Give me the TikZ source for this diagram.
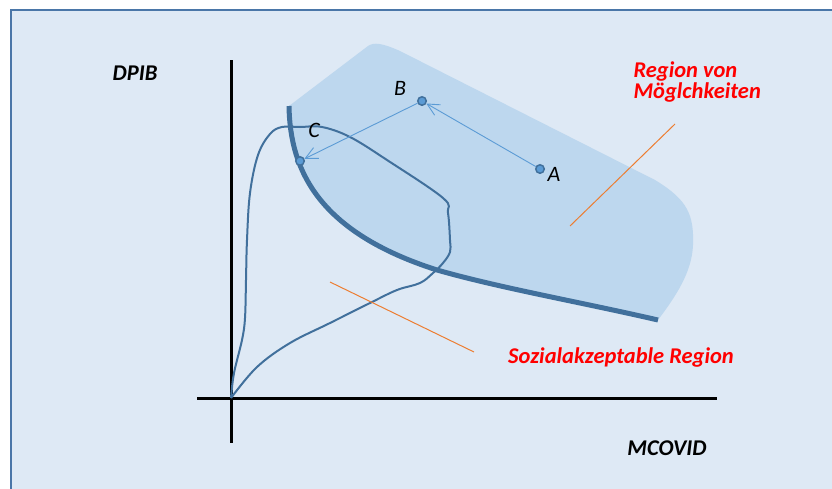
\documentclass[tikz,border=0pt]{standalone}
\usepackage{fontspec}
\setmainfont{Carlito}
\usetikzlibrary{arrows.meta}
\definecolor{bgblue}{HTML}{DEE9F5}
\definecolor{framecol}{HTML}{4A76A8}
\definecolor{regfill}{HTML}{BDD7EE}
\definecolor{curvecol}{HTML}{41709C}
\definecolor{arrcol}{HTML}{5B9BD5}
\definecolor{orangecol}{HTML}{ED7D31}
\begin{document}
\begin{tikzpicture}[x=1pt,y=-1pt,
  axisline/.style={line width=3pt,black},
  thickcurve/.style={line width=5pt,curvecol},
  thincurve/.style={line width=2pt,curvecol,line join=round},
  dot/.style={circle,inner sep=0pt,minimum size=8.5pt,fill=arrcol,draw=curvecol,line width=1.5pt},
  arr/.style={arrcol,line width=0.9pt,-{Straight Barb[length=12pt,width=12pt]}},
  pointer/.style={orangecol,line width=1pt},
  axlab/.style={font=\fontsize{22.5}{26}\selectfont\bfseries\itshape,black},
  redlab/.style={font=\fontsize{22.5}{20.5}\selectfont\bfseries\itshape,red},
  ptlab/.style={font=\fontsize{22}{26}\selectfont\itshape,black}]
\useasboundingbox (0,0) rectangle (832,488);
\fill[white] (0,0) rectangle (832,488);
\draw[fill=bgblue,draw=framecol,line width=2pt] (11,10) rectangle (845,500);
% region of possibilities
\fill[regfill] (289,106) -- (368,46) .. controls (374,42) and (382,43) .. (400,51)
  -- (655,180) .. controls (688,200) and (694,215) .. (693,245)
  .. controls (692,272) and (676,296) .. (658,320)
  .. controls (580,302) and (500,288) .. (437,270)
  .. controls (318,232) and (290,170) .. (289,106) -- cycle;
% boundary curve
\draw[thickcurve] (289,106) .. controls (290,170) and (318,232) .. (437,270)
  .. controls (500,288) and (580,302) .. (658,320);
% axes
\draw[axisline] (231,60) -- (231,443);
\draw[axisline] (197,398) -- (717,398);
% socially acceptable loop
\draw[thincurve] plot[smooth,tension=0.6] coordinates {(231,398) (234,373) (242,340) (245,318) (246,280) (247,240) (250,193) (258,155) (270,134) (282,127) (300,127) (322,127) (350,137) (387,160) (443,198) (448,213) (450,240) (450,252) (443,263) (433,273) (420,283) (397,290) (370,303) (330,323) (290,343) (257,367) (231,398)};
% points
\node[dot] (A) at (540,169) {};
\node[dot] (B) at (422,101) {};
\node[dot] (C) at (300,161) {};
\draw[arr] (A) -- (B);
\draw[arr] (B) -- (C);
\node[ptlab] (la) at (554,174) {A};
\node[ptlab] (lb) at (400,88) {B};
\node[ptlab] (lc) at (314,130) {C};
% pointer lines
\coordinate (p1a) at (570,226);
\coordinate (p1b) at (675,124);
\coordinate (p2a) at (330,282);
\coordinate (p2b) at (474,352);
\draw[pointer] (p1a) -- (p1b);
\draw[pointer] (p2a) -- (p2b);
% labels
\node[axlab] (dpib) at (135,73) {DPIB};
\node[axlab] (mcovid) at (667,448) {MCOVID};
\node[redlab,anchor=base west,align=left] (rvm) at (630,98) {Region von\\Möglchkeiten};
\node[redlab] (sar) at (621,357) {Sozialakzeptable Region};
\end{tikzpicture}
\end{document}
